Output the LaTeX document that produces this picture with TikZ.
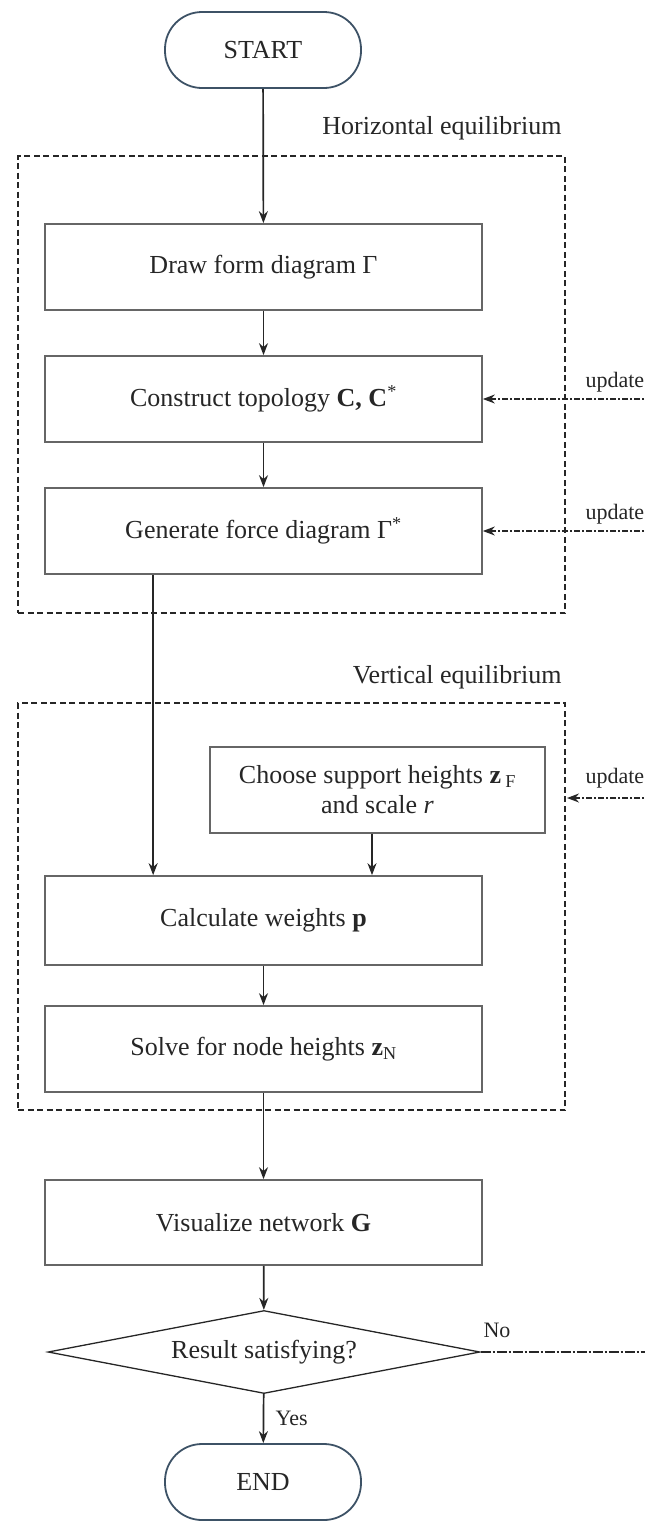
\documentclass[tikz,border=0pt]{standalone}
\usepackage{fontspec}
\setmainfont{Liberation Serif}
\usetikzlibrary{shapes.geometric,arrows.meta}
\definecolor{boxgray}{HTML}{666666}
\definecolor{inkdark}{HTML}{262626}
\definecolor{termblue}{HTML}{3D5266}
\begin{document}
\begin{tikzpicture}[x=1pt,y=-1pt,
  every node/.style={text=inkdark, font=\fontsize{26}{31}\selectfont},
  proc/.style={draw=boxgray, line width=1.7pt, minimum width=437pt,
    minimum height=86pt, inner sep=0pt, align=center},
  term/.style={draw=termblue, line width=1.8pt, rounded corners=37pt,
    minimum width=196pt, minimum height=76pt, inner sep=0pt},
  decision/.style={draw=inkdark, line width=1.3pt, diamond, aspect=5.2,
    minimum width=432pt, minimum height=83pt, inner sep=0pt},
  grp/.style={draw=inkdark, line width=1.5pt, dash pattern=on 6pt off 3.5pt,
    inner sep=0pt},
  grplabel/.style={anchor=east},
  small/.style={font=\fontsize{22}{26}\selectfont},
  flow/.style={draw=inkdark, line width=1.7pt, -{Stealth[length=12pt,width=9pt]}},
  upd/.style={draw=inkdark, line width=1.4pt,
    dash pattern=on 6pt off 2pt on 2pt off 2pt, -{Stealth[length=12pt,width=9pt]}},
  nolink/.style={draw=inkdark, line width=1.4pt,
    dash pattern=on 10pt off 2pt on 2pt off 2pt},
]
\useasboundingbox (0,0) rectangle (645,1521);

% group frames
\node[grp, minimum width=547pt, minimum height=457pt] (hgroup) at (291.5,384.5) {};
\node[grp, minimum width=547pt, minimum height=407pt] (vgroup) at (291.5,906.5) {};
\node[grplabel] (hlabel) at (565,128) {Horizontal equilibrium};
\node[grplabel] (vlabel) at (565,677) {Vertical equilibrium};

% terminals
\node[term] (start) at (263,50) {START};
\node[term] (stop) at (263,1482) {END};

% process steps
\node[proc] (form) at (263.5,267) {Draw form diagram Γ};
\node[proc] (topo) at (263.5,399) {Construct topology \textbf{C, C}\textsuperscript{*}};
\node[proc] (gen) at (263.5,531) {Generate force diagram Γ\textsuperscript{*}};
\node[proc, minimum width=335pt, minimum height=86pt] (choose) at (377.5,790)
  {Choose support heights \textbf{z}\,\textsubscript{F}\\[-1pt] and scale \textit{r}};
\node[proc, minimum height=89pt] (calc) at (263.5,920.5) {Calculate weights \textbf{p}};
\node[proc] (solve) at (263.5,1049) {Solve for node heights \textbf{z}\textsubscript{N}};
\node[proc, minimum height=85pt] (vis) at (263.5,1222.5) {Visualize network \textbf{G}};
\node[decision] (dec) at (264,1352) {Result satisfying?};

% main flow
\draw[flow] (start) -- (form);
\draw[flow] (form) -- (topo);
\draw[flow] (topo) -- (gen);
\draw[flow] ([xshift=109pt]gen.south west) -- ([xshift=109pt]calc.north west);
\draw[flow] (choose.south -| 372,0) -- (calc.north -| 372,0);
\draw[flow] (calc) -- (solve);
\draw[flow] (solve) -- (vis);
\draw[flow] (vis) -- (dec);
\draw[flow] (dec) -- node[small, anchor=west, xshift=8pt] (yes) {Yes} (stop);

% feedback from the right
\coordinate (fb2) at (652,399);
\coordinate (fb3) at (652,531);
\coordinate (fb4) at (652,798);
\coordinate (fb4end) at (567,798);
\coordinate (fbno) at (652,1352);
\draw[upd] (fb2) -- (topo.east);
\draw[upd] (fb3) -- (gen.east);
\draw[upd] (fb4) -- (fb4end);
\draw[nolink] (dec.east) -- (fbno);
\node[small, anchor=west] (u2) at (582,382) {update};
\node[small, anchor=west] (u3) at (582,514) {update};
\node[small, anchor=west] (u4) at (582,778) {update};
\node[small, anchor=west] (no) at (480,1330) {No};
\end{tikzpicture}
\end{document}
